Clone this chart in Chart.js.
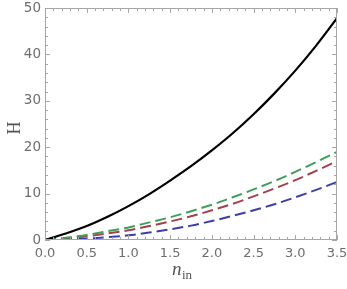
<!DOCTYPE html>
<html>
<head>
<meta charset="utf-8">
<script src="https://cdn.jsdelivr.net/npm/chart.js@4/dist/chart.umd.min.js"></script>
<style>
  html,body{margin:0;padding:0;background:#fff;}
  #wrap{width:347px;height:289px;position:relative;}
</style>
</head>
<body>
<div id="wrap"><canvas id="chart"></canvas></div>
<script>
const nIn=[0, 0.25, 0.5, 0.75, 1, 1.25, 1.5, 1.75, 2, 2.25, 2.5, 2.75, 3, 3.25, 3.5];
const hBlack=[0, 1.4, 3.0, 5.0, 7.3, 9.9, 12.8, 15.9, 19.3, 23.0, 27.1, 31.6, 36.5, 41.9, 47.8];
const hGreen=[0, 0.5, 1.1, 1.9, 2.7, 3.8, 4.9, 6.2, 7.6, 9.2, 10.9, 12.7, 14.7, 16.8, 19.0];
const hRed=[0, 0.3, 0.8, 1.4, 2.1, 3.0, 4.0, 5.1, 6.4, 7.8, 9.4, 11.1, 12.9, 14.9, 17.0];
const hBlue=[0, 0.1, 0.3, 0.6, 1.0, 1.6, 2.3, 3.1, 4.1, 5.2, 6.4, 7.7, 9.2, 10.8, 12.5];

const xTicks=[0, 0.5, 1, 1.5, 2, 2.5, 3, 3.5];
const yTicks=[0, 10, 20, 30, 40, 50];

const frameColor='#a6a6a6';
const labelColor='#6e6e6e';

function pts(ys){
  return nIn.map((n,i)=>({x:n, y:ys[i]}));
}

function noPad(s){
  s.paddingLeft=0; s.paddingRight=0; s.paddingTop=0; s.paddingBottom=0;
}

// frame with inward ticks (major + minor) on all four sides, plus axis titles
const framePlugin={
  id:'frame',
  afterDatasetsDraw(chart){
    const ctx=chart.ctx;
    const a=chart.chartArea;
    const xs=chart.scales.x, ys=chart.scales.y;
    ctx.save();
    ctx.strokeStyle=frameColor;
    ctx.lineWidth=1;
    ctx.strokeRect(a.left+0.5, a.top+0.5, a.right-a.left-1, a.bottom-a.top-1);
    ctx.beginPath();
    for(let i=0;i<=35;i++){
      const px=Math.round(xs.getPixelForValue(i/10))+0.5;
      const len=(i%5===0)?5:3;
      ctx.moveTo(px,a.bottom); ctx.lineTo(px,a.bottom-len);
      ctx.moveTo(px,a.top); ctx.lineTo(px,a.top+len);
    }
    for(let i=0;i<=25;i++){
      const py=Math.round(ys.getPixelForValue(i*2))+0.5;
      const len=(i%5===0)?5:3;
      ctx.moveTo(a.left,py); ctx.lineTo(a.left+len,py);
      ctx.moveTo(a.right,py); ctx.lineTo(a.right-len,py);
    }
    ctx.stroke();

    // axis titles
    ctx.fillStyle='#555';
    ctx.font='18px "Liberation Serif"';
    ctx.textAlign='center';
    ctx.textBaseline='middle';
    ctx.save();
    ctx.translate(15,128);
    ctx.rotate(-Math.PI/2);
    ctx.fillText('H',0,0);
    ctx.restore();

    ctx.textAlign='left';
    ctx.textBaseline='alphabetic';
    ctx.font='italic 19px "Liberation Serif"';
    ctx.fillText('n',172,275);
    ctx.font='13px "Liberation Serif"';
    ctx.fillText('in',182,279);
    ctx.restore();
  }
};

const dash=[11,5];
const lineData={
  datasets:[
    {label:'black', data:pts(hBlack), borderColor:'#000', borderWidth:2.2},
    {label:'green', data:pts(hGreen), borderColor:'#3f9f5a', borderWidth:2, borderDash:dash},
    {label:'red', data:pts(hRed), borderColor:'#a3404e', borderWidth:2, borderDash:dash},
    {label:'blue', data:pts(hBlue), borderColor:'#3e3ea6', borderWidth:2, borderDash:dash}
  ]
};

const lineChart={
  type:'line',
  data:lineData,
  options:{
    responsive:true,
    maintainAspectRatio:false,
    animation:false,
    layout:{padding:{top:8,right:10,left:0,bottom:0}},
    elements:{point:{radius:0}, line:{cubicInterpolationMode:'monotone', fill:false}},
    plugins:{legend:{display:false}, tooltip:{enabled:false}},
    scales:{
      x:{
        type:'linear', min:0, max:3.5,
        grid:{display:false, drawTicks:false},
        border:{display:false},
        afterFit(s){ s.height=49; noPad(s); },
        afterBuildTicks(s){ s.ticks=xTicks.map(v=>({value:v})); },
        ticks:{
          padding:6, color:labelColor, maxRotation:0,
          font:{family:'"DejaVu Sans"', size:13},
          callback:(v)=>v.toFixed(1)
        }
      },
      y:{
        type:'linear', min:0, max:50,
        grid:{display:false, drawTicks:false},
        border:{display:false},
        afterFit(s){ s.width=45; noPad(s); },
        afterBuildTicks(s){ s.ticks=yTicks.map(v=>({value:v})); },
        ticks:{
          padding:4, color:labelColor,
          font:{family:'"DejaVu Sans"', size:13.5}
        }
      }
    }
  },
  plugins:[framePlugin]
};

const chart=new Chart(document.querySelector('#chart'), lineChart);
</script>
</body>
</html>
